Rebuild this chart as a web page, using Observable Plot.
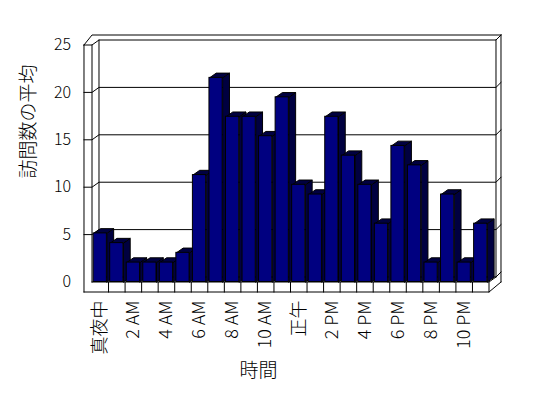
<!DOCTYPE html>
<html><head><meta charset="utf-8">
<script src="https://cdn.jsdelivr.net/npm/d3@7"></script>
<script src="https://cdn.jsdelivr.net/npm/@observablehq/plot@0.6"></script>
<style>
body{margin:0;background:#fff}
#c{position:relative;width:548px;height:398px}
#c svg{position:absolute;left:0;top:0}
</style>
</head><body><div id="c"></div>
<script>
// ---- data ----
const hours = [0,1,2,3,4,5,6,7,8,9,10,11,12,13,14,15,16,17,18,19,20,21,22,23];
const visits = [5,4,2,2,2,3,11,21,17,17,15,19,10,9,17,13,10,6,14,12,2,9,2,6];
const tickHours = [0,2,4,6,8,10,12,14,16,18,20,22];
const tickLabels = ["真夜中","2 AM","4 AM","6 AM","8 AM","10 AM","正午","2 PM","4 PM","6 PM","8 PM","10 PM"];
const yTicks = [0,5,10,15,20,25];
const xTitle = "時間";
const yTitle = "訪問数の平均";

// ---- layout ----
const W = 548, H = 398;
const font = '"Noto Sans CJK JP", "Noto Sans", sans-serif';
const common = {width: W, height: H, marginLeft: 91.5, marginRight: 59.5, marginBottom: 116.5};
const xScale = {type: "linear", domain: [-0.5, 23.5], axis: null};

// wall / floor geometry in data units (front plane scale)
const XL = -0.984, X0 = -0.5, X1 = 23.5, DX = 0.423, DY = 0.527, BX = 0.302, BY = 0.527, FT = 1.055, TOP = 25;
const polylines = [];
function pl(pts){ const id = polylines.length ? polylines[polylines.length-1].id + 1 : 0; pts.forEach(([x,y]) => polylines.push({id, x, y})); }
yTicks.filter(v => v < TOP).forEach(v => {
  const pts = v > 0 ? [[XL, v],[X0, v]] : [];
  pts.push([X0+DX, v+DY],[X1+DX, v+DY],[X1+DX+BX, v+DY+BY]);
  pl(pts);
});
pl([[XL,TOP],[X0,TOP],[X0+DX,TOP+DY],[X1+DX,TOP+DY],[X1+DX+BX,TOP+DY+BY]]);
pl([[XL,TOP],[X0,TOP+DY+BY],[X1+DX+BX,TOP+DY+BY]]);
pl([[XL,TOP],[XL,-FT]]);
pl([[X0,TOP],[X0,0]]);
pl([[X0+DX,TOP+DY],[X0+DX,DY]]);
pl([[X1+DX,TOP+DY],[X1+DX,DY]]);
pl([[X1+DX+BX,TOP+DY+BY],[X1+DX+BX,-FT+DY+BY]]);
pl([[X0,0],[X1,0],[X1+DX,DY]]);
pl([[XL,-FT],[X1,-FT],[X1+DX+BX,-FT+DY+BY]]);
pl([[X1,0],[X1,-FT]]);
hours.slice(0, -1).forEach(h => pl([[h+0.5,0],[h+0.5,-FT]]));

const back = Plot.plot({
  ...common, marginTop: 44.5,
  x: xScale, y: {domain: [0, 25], axis: null},
  style: {fontFamily: font, background: "white", color: "black"},
  marks: [
    Plot.line(polylines, {x: "x", y: "y", z: "id", stroke: "black", strokeWidth: 1, strokeLinejoin: "miter", strokeLinecap: "square"}),
    Plot.text(yTicks, {y: d => d, frameAnchor: "left", dx: -21, textAnchor: "end", fontSize: 16, fontWeight: 300, fill: "black"}),
    Plot.text(tickLabels, {x: (d, i) => tickHours[i], y: () => 0, rotate: -90, textAnchor: "end", dy: 18.5, fontSize: 18, fontWeight: 300, fill: "black"}),
    Plot.text([yTitle], {frameAnchor: "left", dx: -63, dy: 15, rotate: -90, fontSize: 19, fontWeight: 300, fill: "black"}),
    Plot.text([xTitle], {frameAnchor: "bottom", dx: -32, dy: 94.5, fontSize: 19, fontWeight: 300, fill: "black"})
  ]
});

// ---- bars (3D) ----
const barW = 0.4, bdx = 0.41, bdy = 0.49;
const faces = [];
hours.forEach((h, i) => {
  const v = visits[i], a = h - barW, b = h + barW;
  [[b,0],[b,v],[b+bdx,v+bdy],[b+bdx,bdy],[b,0]].forEach(([x,y]) => faces.push({id: "s"+i, x, y}));
  [[a,v],[a+bdx,v+bdy],[b+bdx,v+bdy],[b,v],[a,v]].forEach(([x,y]) => faces.push({id: "t"+i, x, y}));
});
const bars = hours.map((h, i) => ({h, v: visits[i]}));

const front = Plot.plot({
  ...common, marginTop: 38.5,
  x: xScale, y: {domain: [0, 25], axis: null},
  style: {background: "transparent"},
  marks: [
    Plot.line(faces, {x: "x", y: "y", z: "id", fill: "#000040", stroke: "black", strokeWidth: 1, strokeLinejoin: "miter"}),
    Plot.rect(bars, {x1: d => d.h - barW, x2: d => d.h + barW, y1: () => 0, y2: "v", fill: "#000080", stroke: "black", strokeWidth: 1})
  ]
});
const ns = "http://www.w3.org/2000/svg";
const defs = document.createElementNS(ns, "defs");
defs.innerHTML = '<pattern id="dith" width="2" height="2" patternUnits="userSpaceOnUse"><rect width="2" height="2" fill="#000080"/><rect width="1" height="1" fill="#000"/><rect x="1" y="1" width="1" height="1" fill="#000"/></pattern>';
front.insertBefore(defs, front.firstChild);
front.querySelectorAll('[fill="#000040"]').forEach(el => el.setAttribute("fill", "url(#dith)"));

const c = document.getElementById("c");
c.appendChild(back);
c.appendChild(front);
</script>
</body></html>
